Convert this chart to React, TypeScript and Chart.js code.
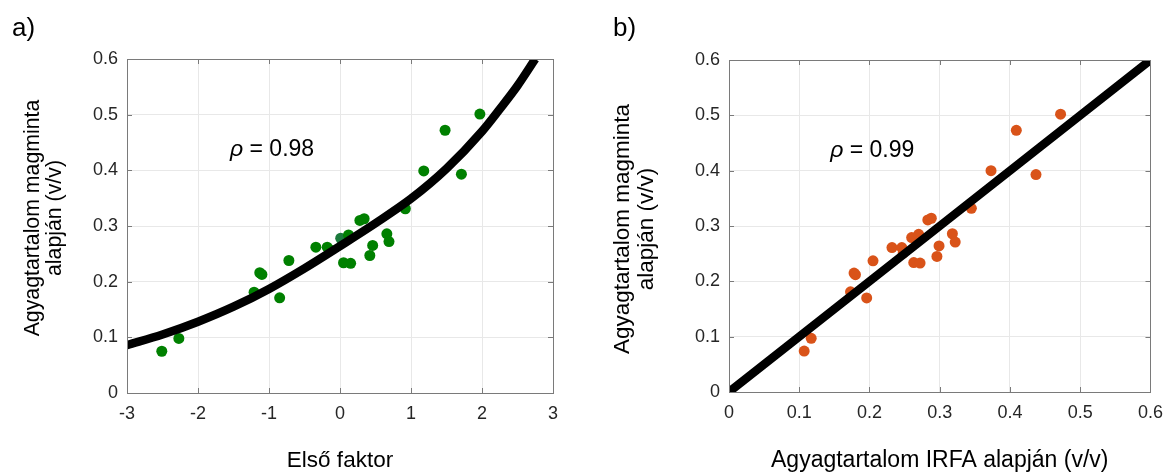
import React, { useEffect, useRef } from "react";
import { Chart, registerables } from "chart.js";
Chart.register(...registerables);

// ---------- data ----------
const factorX = [-2.51, -2.27, -1.21, -1.13, -1.1, -0.85, -0.72, -0.34, -0.18, -0.14, 0.01, 0.12, 0.05, 0.15, 0.28, 0.34, 0.42, 0.46, 0.66, 0.69, 0.92, 1.18, 1.48, 1.71, 1.97];
const coreClayLeft = [0.075, 0.098, 0.181, 0.216, 0.213, 0.171, 0.238, 0.262, 0.262, 0.257, 0.278, 0.284, 0.234, 0.233, 0.31, 0.313, 0.247, 0.265, 0.286, 0.272, 0.331, 0.399, 0.472, 0.393, 0.501];
const irfaClay = [0.107, 0.117, 0.173, 0.178, 0.18, 0.196, 0.205, 0.232, 0.246, 0.248, 0.26, 0.27, 0.263, 0.272, 0.283, 0.288, 0.296, 0.299, 0.318, 0.322, 0.345, 0.373, 0.409, 0.437, 0.472];
const coreClayRight = [0.074, 0.097, 0.181, 0.215, 0.212, 0.17, 0.237, 0.261, 0.261, 0.251, 0.279, 0.285, 0.234, 0.233, 0.311, 0.314, 0.245, 0.264, 0.286, 0.271, 0.332, 0.4, 0.473, 0.393, 0.502];
const fitCurveX = [-3, -2.5, -2, -1.5, -1, -0.5, 0, 0.5, 1, 1.5, 2, 2.25, 2.5, 2.75];
const fitCurveY = [0.086, 0.105, 0.128, 0.155, 0.187, 0.224, 0.264, 0.305, 0.349, 0.403, 0.47, 0.51, 0.552, 0.6];
const identityX = [0, 0.6];
const identityY = [0, 0.6];
const darkPointIndex = 10;
const leftXTicks = [-3, -2, -1, 0, 1, 2, 3];
const rightXTicks = [0, 0.1, 0.2, 0.3, 0.4, 0.5, 0.6];
const yTicks = [0, 0.1, 0.2, 0.3, 0.4, 0.5, 0.6];
const rhoLeft = "0.98";
const rhoRight = "0.99";
const yTitleLines = ["Agyagtartalom magminta", "alapján (v/v)"];
const xTitleLeft = "Első faktor";
const xTitleRight = "Agyagtartalom IRFA alapján (v/v)";

const FONT = "'Liberation Sans', Arial, sans-serif";
const TICK_COLOR = "#262626";
const BOX_COLOR = "#7a7a7a";
const GRID_COLOR = "#e8e8e8";

const pairs = (xs: number[], ys: number[]) => xs.map((x, i) => ({ x, y: ys[i] }));

const decorPlugin = {
  id: "decor",
  afterDraw(chart: any, _args: any, opts: any) {
    const ctx = chart.ctx;
    const a = chart.chartArea;
    const xs = chart.scales.x;
    const ys = chart.scales.y;
    ctx.save();
    // box
    ctx.strokeStyle = BOX_COLOR;
    ctx.lineWidth = 1;
    ctx.strokeRect(Math.round(a.left) + 0.5, Math.round(a.top) + 0.5, Math.round(a.right - a.left), Math.round(a.bottom - a.top));
    // inner ticks
    const tl = 5;
    ctx.beginPath();
    opts.xTicks.forEach((v: number) => {
      const px = Math.round(xs.getPixelForValue(v)) + 0.5;
      ctx.moveTo(px, a.bottom); ctx.lineTo(px, a.bottom - tl);
      ctx.moveTo(px, a.top); ctx.lineTo(px, a.top + tl);
    });
    yTicks.forEach((v: number) => {
      const py = Math.round(ys.getPixelForValue(v)) + 0.5;
      ctx.moveTo(a.left, py); ctx.lineTo(a.left + tl, py);
      ctx.moveTo(a.right, py); ctx.lineTo(a.right - tl, py);
    });
    ctx.stroke();

    ctx.fillStyle = "#000";
    // panel label
    ctx.font = `26px ${FONT}`;
    ctx.textAlign = "left";
    ctx.textBaseline = "alphabetic";
    ctx.fillText(opts.panel, opts.panelX, 36);

    // y title
    ctx.font = `${opts.yTitleSize}px ${FONT}`;
    ctx.textAlign = "center";
    ctx.textBaseline = "middle";
    opts.yTitleX.forEach((x: number, i: number) => {
      ctx.save();
      ctx.translate(x, opts.yTitleY);
      ctx.rotate(-Math.PI / 2);
      ctx.fillText(yTitleLines[i], 0, 0);
      ctx.restore();
    });

    // x title
    ctx.font = `${opts.xTitleSize}px ${FONT}`;
    ctx.textBaseline = "alphabetic";
    ctx.fillText(opts.xTitle, (a.left + a.right) / 2, 467);

    // rho annotation
    const rx = xs.getPixelForValue(opts.rhoX);
    const ry = ys.getPixelForValue(opts.rhoY);
    ctx.textAlign = "left";
    ctx.textBaseline = "middle";
    ctx.font = `italic 23px ${FONT}`;
    ctx.fillText("ρ", rx, ry);
    const w1 = ctx.measureText("ρ").width;
    ctx.font = `23px ${FONT}`;
    ctx.fillText(" = " + opts.rho, rx + w1, ry);
    ctx.restore();
  },
};

function makeConfig(p: any) {
  return {
    type: "scatter",
    data: {
      datasets: [
        {
          data: pairs(p.lineX, p.lineY),
          showLine: true,
          borderColor: "#000",
          borderWidth: 8.5,
          pointRadius: 0,
          cubicInterpolationMode: "monotone",
          clip: 0,
        },
        {
          data: pairs(p.ptX, p.ptY),
          pointRadius: 5.5,
          pointBorderWidth: 0,
          pointBackgroundColor: p.ptX.map((_: number, i: number) => (i === p.darkIdx ? "#1b7a3c" : p.color)),
          borderColor: "transparent",
        },
      ],
    },
    options: {
      responsive: false,
      animation: false,
      events: [],
      layout: { padding: { left: 0, top: p.top, right: p.right, bottom: 0 } },
      plugins: {
        legend: { display: false },
        tooltip: { enabled: false },
        decor: p.decor,
      },
      scales: {
        x: {
          type: "linear",
          min: p.xMin,
          max: p.xMax,
          afterBuildTicks: (s: any) => { s.ticks = p.xTicks.map((v: number) => ({ value: v })); },
          afterFit: (s: any) => { s.height = p.xAxisH; },
          ticks: { font: { size: 18, family: FONT }, color: TICK_COLOR, padding: 10, maxRotation: 0, autoSkip: false, callback: (v: number) => String(v) },
          grid: { color: GRID_COLOR, drawTicks: false, lineWidth: 1 },
          border: { display: false },
        },
        y: {
          type: "linear",
          min: 0,
          max: 0.6,
          afterBuildTicks: (s: any) => { s.ticks = yTicks.map((v: number) => ({ value: v })); },
          afterFit: (s: any) => { s.width = p.yAxisW; },
          ticks: { font: { size: 18, family: FONT }, color: TICK_COLOR, padding: 9, autoSkip: false, callback: (v: number) => String(v) },
          grid: { color: GRID_COLOR, drawTicks: false, lineWidth: 1 },
          border: { display: false },
        },
      },
    },
    plugins: [decorPlugin],
  } as any;
}

function Panel(props: { cfg: any; width: number; left: number }) {
  const ref = useRef<HTMLCanvasElement>(null);
  useEffect(() => {
    const chart = new Chart(ref.current as HTMLCanvasElement, props.cfg);
    return () => chart.destroy();
  }, []);
  return (
    <canvas
      ref={ref}
      width={props.width}
      height={474}
      style={{ position: "absolute", left: props.left, top: 0, width: props.width, height: 474 }}
    />
  );
}

export default function App() {
  const leftCfg = makeConfig({
    lineX: fitCurveX, lineY: fitCurveY, ptX: factorX, ptY: coreClayLeft, color: "#008000", darkIdx: darkPointIndex,
    xMin: -3, xMax: 3, xTicks: leftXTicks, top: 59, right: 33, xAxisH: 81, yAxisW: 127,
    decor: { panel: "a)", panelX: 12, yTitleX: [33, 55], yTitleY: 218, yTitleSize: 21.3, xTitle: xTitleLeft, xTitleSize: 22.5, rho: rhoLeft, rhoX: -1.55, rhoY: 0.4365, xTicks: leftXTicks },
  });
  const rightCfg = makeConfig({
    lineX: identityX, lineY: identityY, ptX: irfaClay, ptY: coreClayRight, color: "#D95319", darkIdx: -1,
    xMin: 0, xMax: 0.6, xTicks: rightXTicks, top: 60, right: 16, xAxisH: 82, yAxisW: 143,
    decor: { panel: "b)", panelX: 27, yTitleX: [37, 61], yTitleY: 229, yTitleSize: 22.5, xTitle: xTitleRight, xTitleSize: 23, rho: rhoRight, rhoX: 0.144, rhoY: 0.437, xTicks: rightXTicks },
  });
  return (
    <div style={{ position: "absolute", left: 0, top: 0, width: 1173, height: 474, background: "#fff", overflow: "hidden" }}>
      <Panel cfg={leftCfg} width={586} left={0} />
      <Panel cfg={rightCfg} width={587} left={586} />
    </div>
  );
}
